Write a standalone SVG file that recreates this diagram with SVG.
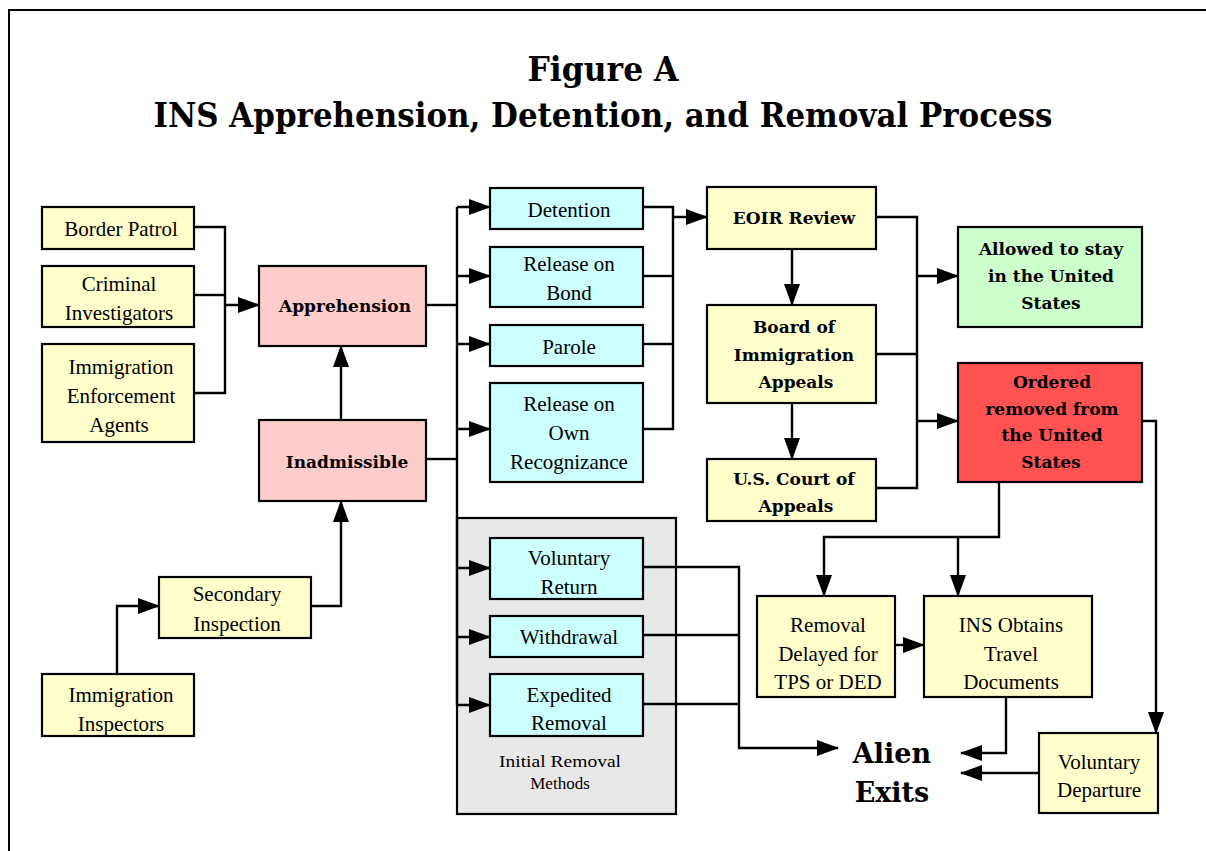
<svg xmlns="http://www.w3.org/2000/svg" width="1206" height="851" viewBox="0 0 1206 851">
<defs>
<marker id="arr" markerUnits="userSpaceOnUse" markerWidth="22" markerHeight="16" viewBox="0 0 22 16" refX="21" refY="8" orient="auto">
<path d="M0,0 L22,8 L0,16 Z" fill="#000"/>
</marker>
<style>
.box{stroke:#000;stroke-width:2.2}
.y{fill:#FFFFCC}.p{fill:#FFCCCC}.c{fill:#CCFFFF}.g{fill:#CCFFCC}.r{fill:#FF5252}.gr{fill:#E8E8E8}
.t{font-family:"Liberation Serif","Times New Roman",serif;font-size:21px;fill:#000;text-anchor:middle}
.b{font-family:"DejaVu Serif","Liberation Serif",serif;font-size:17px;font-weight:bold;fill:#000;text-anchor:middle}
.sm{font-size:17px}
.big{font-size:27px}
.conn path{fill:none;stroke:#000;stroke-width:2.4}
.a{marker-end:url(#arr)}
</style>
</defs>
<rect width="1206" height="851" fill="#fff"/>
<path d="M9,851 V10 H1206" fill="none" stroke="#000" stroke-width="2"/>
<g id="title" font-family="DejaVu Serif,Liberation Serif,serif" font-weight="bold" text-anchor="middle" fill="#000">
<text x="603" y="81" font-size="33" textLength="151" lengthAdjust="spacingAndGlyphs">Figure A</text>
<text x="603" y="127" font-size="33" textLength="899" lengthAdjust="spacingAndGlyphs">INS Apprehension, Detention, and Removal Process</text>
</g>
<g id="initial-removal">
<rect class="box gr" x="457" y="518" width="219" height="296" stroke-width="2"/>
<text class="t sm" x="560" y="767" textLength="122" lengthAdjust="spacingAndGlyphs">Initial Removal</text>
<text class="t sm" x="560" y="789">Methods</text>
</g>
<g class="conn" id="connectors">
<path d="M194,227 H225 V393 H194"/>
<path d="M194,295 H225"/>
<path class="a" d="M225,305 H259"/>
<path d="M426,305 H457"/>
<path d="M426,459 H457"/>
<path d="M457,207 V705"/>
<path class="a" d="M457,207 H490"/>
<path class="a" d="M457,276 H490"/>
<path class="a" d="M457,344 H490"/>
<path class="a" d="M457,429 H490"/>
<path class="a" d="M457,568 H490"/>
<path class="a" d="M457,637 H490"/>
<path class="a" d="M457,705 H490"/>
<path class="a" d="M341,420 V346"/>
<path class="a" d="M311,606 H341 V501"/>
<path class="a" d="M117,674 V606 H159"/>
<path d="M643,207 H673 V429 H643"/>
<path d="M643,276 H673"/>
<path d="M643,344 H673"/>
<path class="a" d="M673,217 H707"/>
<path d="M876,217 H917 V488 H876"/>
<path d="M876,354 H917"/>
<path class="a" d="M917,276 H958"/>
<path class="a" d="M917,421 H958"/>
<path class="a" d="M792,249 V305"/>
<path class="a" d="M792,403 V459"/>
<path class="a" d="M1142,421 H1156 V733"/>
<path class="a" d="M999,482 V537 H824 V596"/>
<path class="a" d="M958,537 V596"/>
<path class="a" d="M895,645 H924"/>
<path class="a" d="M1006,697 V753 H961"/>
<path class="a" d="M1039,773 H961"/>
<path class="a" d="M643,567 H739 V748 H838"/>
<path d="M643,635 H739"/>
<path d="M643,704 H739"/>
</g>
<g id="border-patrol"><rect class="box y" x="42" y="207" width="152" height="42"/><text class="t" x="121" y="236">Border Patrol</text></g>
<g id="criminal-investigators"><rect class="box y" x="42" y="266" width="152" height="61"/><text class="t" x="119" y="291">Criminal</text><text class="t" x="119" y="320">Investigators</text></g>
<g id="enforcement-agents"><rect class="box y" x="42" y="344" width="152" height="98"/><text class="t" x="121" y="374">Immigration</text><text class="t" x="121" y="403">Enforcement</text><text class="t" x="119" y="432">Agents</text></g>
<g id="apprehension"><rect class="box p" x="259" y="266" width="167" height="80"/><text class="b" x="345" y="312">Apprehension</text></g>
<g id="inadmissible"><rect class="box p" x="259" y="420" width="167" height="81"/><text class="b" x="347" y="468">Inadmissible</text></g>
<g id="secondary-inspection"><rect class="box y" x="159" y="577" width="152" height="61"/><text class="t" x="237" y="601">Secondary</text><text class="t" x="237" y="631">Inspection</text></g>
<g id="immigration-inspectors"><rect class="box y" x="42" y="674" width="152" height="62"/><text class="t" x="121" y="702">Immigration</text><text class="t" x="121" y="731">Inspectors</text></g>
<g id="detention"><rect class="box c" x="490" y="188" width="153" height="41"/><text class="t" x="569" y="217">Detention</text></g>
<g id="release-bond"><rect class="box c" x="490" y="247" width="153" height="60"/><text class="t" x="569" y="271">Release on</text><text class="t" x="569" y="300">Bond</text></g>
<g id="parole"><rect class="box c" x="490" y="325" width="153" height="41"/><text class="t" x="569" y="354">Parole</text></g>
<g id="release-own"><rect class="box c" x="490" y="383" width="153" height="99"/><text class="t" x="569" y="411">Release on</text><text class="t" x="569" y="440">Own</text><text class="t" x="569" y="469">Recognizance</text></g>
<g id="voluntary-return"><rect class="box c" x="490" y="538" width="153" height="61"/><text class="t" x="569" y="565">Voluntary</text><text class="t" x="569" y="594">Return</text></g>
<g id="withdrawal"><rect class="box c" x="490" y="616" width="153" height="41"/><text class="t" x="569" y="644">Withdrawal</text></g>
<g id="expedited-removal"><rect class="box c" x="490" y="674" width="153" height="62"/><text class="t" x="569" y="702">Expedited</text><text class="t" x="569" y="730">Removal</text></g>
<g id="eoir-review"><rect class="box y" x="707" y="187" width="169" height="62"/><text class="b" x="794" y="224">EOIR Review</text></g>
<g id="bia"><rect class="box y" x="707" y="305" width="169" height="98"/><text class="b" x="794" y="333">Board of</text><text class="b" x="794" y="361">Immigration</text><text class="b" x="796" y="388">Appeals</text></g>
<g id="court-appeals"><rect class="box y" x="707" y="459" width="169" height="62"/><text class="b" x="794" y="485">U.S. Court of</text><text class="b" x="796" y="512">Appeals</text></g>
<g id="allowed"><rect class="box g" x="958" y="227" width="184" height="100"/><text class="b" x="1051" y="255">Allowed to stay</text><text class="b" x="1051" y="282">in the United</text><text class="b" x="1051" y="309">States</text></g>
<g id="ordered"><rect class="box r" x="958" y="363" width="184" height="119"/><text class="b" x="1052" y="388">Ordered</text><text class="b" x="1052" y="415">removed from</text><text class="b" x="1052" y="441">the United</text><text class="b" x="1051" y="468">States</text></g>
<g id="removal-delayed"><rect class="box y" x="757" y="596" width="138" height="101"/><text class="t" x="828" y="632">Removal</text><text class="t" x="828" y="661">Delayed for</text><text class="t" x="828" y="689">TPS or DED</text></g>
<g id="ins-obtains"><rect class="box y" x="924" y="596" width="168" height="101"/><text class="t" x="1011" y="632">INS Obtains</text><text class="t" x="1011" y="661">Travel</text><text class="t" x="1011" y="689">Documents</text></g>
<g id="voluntary-departure"><rect class="box y" x="1039" y="733" width="119" height="80"/><text class="t" x="1099" y="769">Voluntary</text><text class="t" x="1099" y="797">Departure</text></g>
<g id="alien-exits"><text class="b big" x="892" y="763">Alien</text><text class="b big" x="892" y="802">Exits</text></g>
</svg>
